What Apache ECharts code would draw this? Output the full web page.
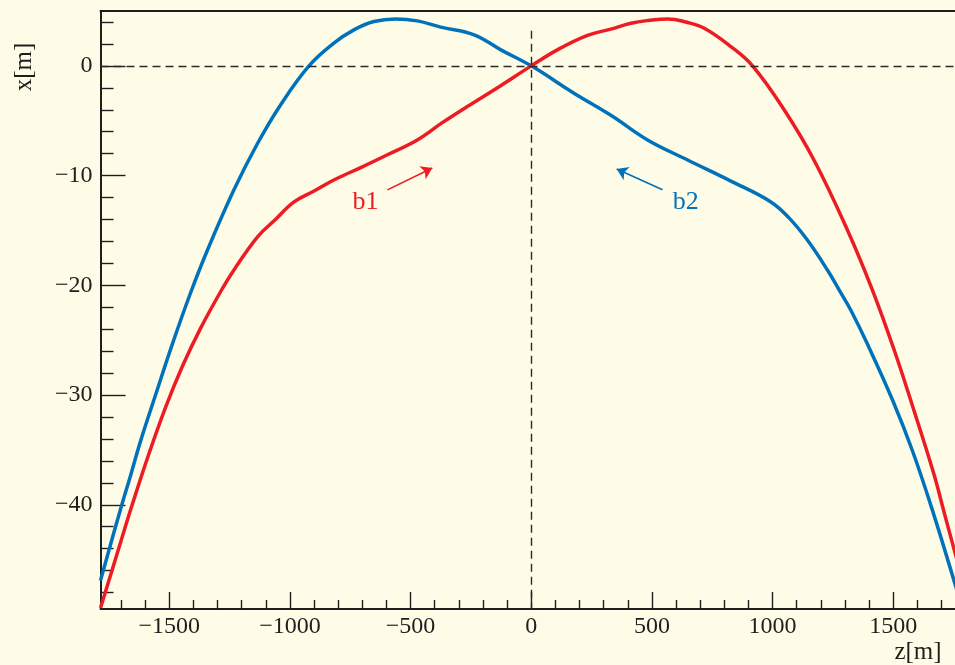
<!DOCTYPE html>
<html>
<head>
<meta charset="utf-8">
<script src="https://cdn.jsdelivr.net/npm/echarts@6/dist/echarts.min.js"></script>
<style>
  html, body { margin: 0; padding: 0; background: #fefce6; }
  #chart { width: 955px; height: 665px; }
</style>
</head>
<body>
<div id="chart"></div>
<script>
// Beam b1 orbit: horizontal excursion x [m] versus longitudinal position z [m]
const zB1 = [-1785, -1700, -1658, -1585, -1515, -1446, -1370, -1280, -1232, -1135, -1060, -983, -900, -818, -700, -596, -472, -370, -265, -130, 0,
             108, 233, 330, 413, 490, 565, 640, 717, 827, 917, 1048, 1172, 1311, 1415, 1504, 1580, 1670, 1705, 1760, 1785];
const xB1 = [-49.4, -43.3, -40.3, -35.4, -31.1, -27.4, -23.9, -20.3, -18.6, -15.6, -14.0, -12.4, -11.4, -10.4, -9.2, -8.1, -6.75, -5.2, -3.71, -1.85, 0,
             1.46, 2.78, 3.35, 3.89, 4.15, 4.28, 4.0, 3.43, 1.76, 0, -4.0, -8.6, -15.0, -20.5, -25.9, -31.0, -37.3, -40.2, -44.7, -46.7];

// Beam b2 orbit
const zB2 = [-1785, -1702, -1660, -1619, -1557, -1488, -1412, -1342, -1232, -1135, -1039, -921, -818, -735, -652, -562, -472, -375, -237, -126, 0,
             177, 330, 482, 650, 827, 993, 1070, 1145, 1230, 1283, 1325, 1394, 1498, 1580, 1661, 1760, 1785];
const xB2 = [-46.9, -40.4, -37.3, -34.2, -30.0, -25.4, -20.7, -16.8, -11.3, -7.1, -3.56, 0, 2.07, 3.28, 4.04, 4.28, 4.10, 3.53, 2.83, 1.46, 0,
             -2.49, -4.5, -6.75, -8.6, -10.5, -12.4, -13.9, -15.9, -18.7, -20.7, -22.3, -25.4, -30.5, -35.1, -40.4, -47.5, -49.4];

// Axis ranges and tick positions
const zRange = [-1785, 1785];
const xRange = [-49.5, 5];
const zMajorTicks = [-1500, -1000, -500, 0, 500, 1000, 1500];
const zMinorTicks = [-1700, -1600, -1400, -1300, -1200, -1100, -900, -800, -700, -600, -400, -300, -200, -100,
                     100, 200, 300, 400, 600, 700, 800, 900, 1100, 1200, 1300, 1400, 1600, 1700];
const xMajorTicks = [0, -10, -20, -30, -40];
const xMinorTicks = [4, 2, -2, -4, -6, -8, -12, -14, -16, -18, -22, -24, -26, -28, -32, -34, -36, -38, -42, -44, -46, -48];

// Annotation anchors (data coordinates)
const b1Arrow = [[-596, -11.3], [-410, -9.3]];
const b2Arrow = [[544, -11.3], [354, -9.4]];
const b1Label = [-687, -12.4];
const b2Label = [640, -12.4];

const RED = '#ed1c24';
const BLUE = '#0072bc';
const INK = '#1e1e1e';
const FONT = "'Liberation Serif', 'DejaVu Serif', serif";

const minus = v => String(v).replace('-', '\u2212');
const pairs = (zs, xs) => zs.map((z, i) => [z, xs[i]]);

const chart = echarts.init(document.getElementById('chart'), null, { renderer: 'canvas' });

const tickLine = { color: INK, width: 1.4 };

chart.setOption({
  backgroundColor: '#fefce6',
  animation: false,
  grid: { left: 100.5, top: 11, width: 861.5, height: 598, containLabel: false, outerBoundsMode: 'none' },
  xAxis: [
    {
      type: 'value', position: 'bottom', min: zRange[0], max: zRange[1],
      axisLine: { show: true, onZero: false, lineStyle: { color: INK, width: 2 } },
      axisTick: { show: true, inside: true, length: 17, customValues: zMajorTicks, lineStyle: tickLine },
      axisLabel: { show: true, customValues: zMajorTicks, formatter: minus, margin: 6,
                   color: INK, fontFamily: FONT, fontSize: 24 },
      splitLine: { show: false }
    },
    {
      type: 'value', position: 'bottom', min: zRange[0], max: zRange[1],
      axisLine: { show: false, onZero: false },
      axisTick: { show: true, inside: true, length: 9, customValues: zMinorTicks, lineStyle: tickLine },
      axisLabel: { show: false },
      splitLine: { show: false }
    },
    {
      type: 'value', position: 'top', min: zRange[0], max: zRange[1],
      axisLine: { show: true, onZero: false, lineStyle: { color: INK, width: 2 } },
      axisTick: { show: false }, axisLabel: { show: false }, splitLine: { show: false }
    }
  ],
  yAxis: [
    {
      type: 'value', position: 'left', min: xRange[0], max: xRange[1],
      axisLine: { show: true, onZero: false, lineStyle: { color: INK, width: 2 } },
      axisTick: { show: true, inside: true, length: 25, customValues: xMajorTicks, lineStyle: tickLine },
      axisLabel: { show: true, customValues: xMajorTicks, formatter: minus, margin: 8,
                   color: INK, fontFamily: FONT, fontSize: 24 },
      splitLine: { show: false }
    },
    {
      type: 'value', position: 'left', min: xRange[0], max: xRange[1],
      axisLine: { show: false, onZero: false },
      axisTick: { show: true, inside: true, length: 13, customValues: xMinorTicks, lineStyle: tickLine },
      axisLabel: { show: false },
      splitLine: { show: false }
    }
  ],
  series: [
    {
      // dashed reference lines through the interaction point
      name: 'guides', type: 'line', data: [], z: 1, silent: true,
      markLine: {
        silent: true, symbol: ['none', 'none'], label: { show: false },
        lineStyle: { color: '#2a2a2a', width: 1.4, type: [8, 5] },
        emphasis: { disabled: true },
        data: [
          { yAxis: 0 },
          [{ coord: [0, 3.2] }, { coord: [0, xRange[0]] }]
        ]
      }
    },
    {
      name: 'b2', type: 'line', data: pairs(zB2, xB2), z: 3,
      showSymbol: false, smooth: 0.4, clip: true,
      lineStyle: { color: BLUE, width: 3.5 }, itemStyle: { color: BLUE },
      markLine: {
        silent: true, symbol: ['none', 'arrow'], symbolSize: 11, label: { show: false },
        lineStyle: { color: BLUE, width: 1.6, type: 'solid' },
        data: [[{ coord: b2Arrow[0] }, { coord: b2Arrow[1] }]]
      }
    },
    {
      name: 'b1', type: 'line', data: pairs(zB1, xB1), z: 4,
      showSymbol: false, smooth: 0.4, clip: true,
      lineStyle: { color: RED, width: 3.5 }, itemStyle: { color: RED },
      markLine: {
        silent: true, symbol: ['none', 'arrow'], symbolSize: 11, label: { show: false },
        lineStyle: { color: RED, width: 1.6, type: 'solid' },
        data: [[{ coord: b1Arrow[0] }, { coord: b1Arrow[1] }]]
      }
    },
    {
      name: 'labels', type: 'scatter', symbolSize: 0, silent: true, z: 5,
      data: [
        { value: b1Label, label: { formatter: 'b1', color: RED } },
        { value: b2Label, label: { formatter: 'b2', color: BLUE } }
      ],
      label: { show: true, position: 'inside', fontFamily: FONT, fontSize: 26,
               textBorderWidth: 0, textBorderColor: 'transparent', opacity: 1 }
    }
  ],
  graphic: [
    {
      type: 'text', x: 24, y: 67, rotation: Math.PI / 2,
      style: { text: 'x[m]', fontFamily: FONT, fontSize: 25, fill: INK, align: 'center', verticalAlign: 'middle' }
    },
    {
      type: 'text', x: 918, y: 652,
      style: { text: 'z[m]', fontFamily: FONT, fontSize: 25, fill: INK, align: 'center', verticalAlign: 'middle' }
    }
  ]
});
</script>
</body>
</html>
